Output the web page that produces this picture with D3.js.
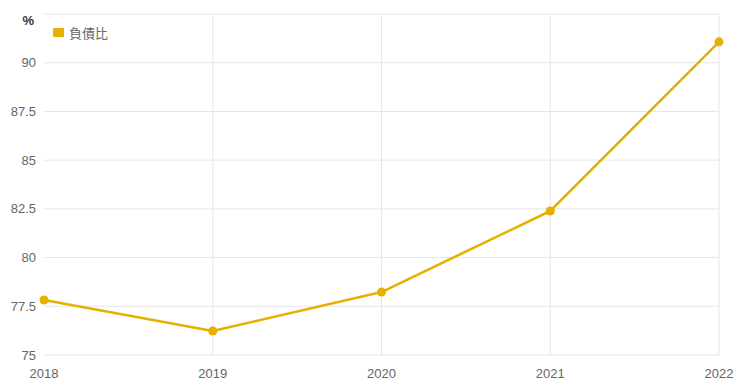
<!DOCTYPE html>
<html>
<head>
<meta charset="utf-8">
<script src="https://cdn.jsdelivr.net/npm/d3@7"></script>
<style>
  body { margin: 0; background: #fff; }
  svg { display: block; font-family: "Noto Sans CJK TC", "Liberation Sans", Arial, sans-serif; }
</style>
</head>
<body>
<div id="chart"></div>
<script>
const years = ["2018", "2019", "2020", "2021", "2022"]
const debtRatio = [77.82, 76.23, 78.23, 82.39, 91.07]
const yTicks = [75, 77.5, 80, 82.5, 85, 87.5, 90]
const seriesName = "負債比"
const unitLabel = "%"

const W = 740, H = 387
const M = {left: 44, right: 21, top: 14, bottom: 32}
const COLOR = "#e5b000"

const svg = d3.select("#chart").append("svg").attr("width", W).attr("height", H)

const x = d3.scalePoint().domain(years).range([M.left, W - M.right])
const y = d3.scaleLinear().domain([75, 92.5]).range([H - M.bottom, M.top])

// horizontal grid
svg.append("g")
  .selectAll("line")
  .data(yTicks.concat([92.5]))
  .join("line")
  .attr("x1", M.left).attr("x2", W - M.right)
  .attr("y1", d => y(d)).attr("y2", d => y(d))
  .attr("stroke", "#e6e6e6").attr("stroke-width", 1)

// vertical grid
svg.append("g")
  .selectAll("line")
  .data(years.slice(1))
  .join("line")
  .attr("x1", d => x(d)).attr("x2", d => x(d))
  .attr("y1", M.top).attr("y2", H - M.bottom)
  .attr("stroke", "#e6e6e6").attr("stroke-width", 1)

// y labels
svg.append("g")
  .selectAll("text")
  .data(yTicks)
  .join("text")
  .attr("x", M.left - 8).attr("y", d => y(d))
  .attr("dy", "0.35em")
  .attr("text-anchor", "end")
  .attr("fill", "#666").style("font-size", "13px")
  .style("font-family", "Liberation Sans, Arial, sans-serif")
  .text(d => d)

svg.append("text")
  .attr("x", 34).attr("y", 20)
  .attr("dy", "0.35em")
  .attr("text-anchor", "end")
  .attr("fill", "#333").style("font-size", "13px").style("font-weight", "bold")
  .style("font-family", "Liberation Sans, Arial, sans-serif")
  .text(unitLabel)

// x labels
svg.append("g")
  .selectAll("text")
  .data(years)
  .join("text")
  .attr("x", d => x(d)).attr("y", H - 9)
  .attr("text-anchor", "middle")
  .attr("fill", "#666").style("font-size", "13px")
  .style("font-family", "Liberation Sans, Arial, sans-serif")
  .text(d => d)

// line
const pts = years.map((yr, i) => [x(yr), y(debtRatio[i])])
svg.append("path")
  .attr("d", d3.line()(pts))
  .attr("fill", "none")
  .attr("stroke", COLOR).attr("stroke-width", 2.5)
  .attr("stroke-linejoin", "round")

svg.append("g")
  .selectAll("circle")
  .data(pts)
  .join("circle")
  .attr("cx", d => d[0]).attr("cy", d => d[1])
  .attr("r", 4.5)
  .attr("fill", COLOR)

// legend
const lg = svg.append("g").attr("transform", "translate(53,28)")
lg.append("rect").attr("width", 11).attr("height", 9).attr("rx", 1).attr("fill", COLOR)
lg.append("text")
  .attr("x", 16).attr("y", 5).attr("dy", "0.35em")
  .attr("fill", "#666").style("font-size", "13px")
  .text(seriesName)
</script>
</body>
</html>
